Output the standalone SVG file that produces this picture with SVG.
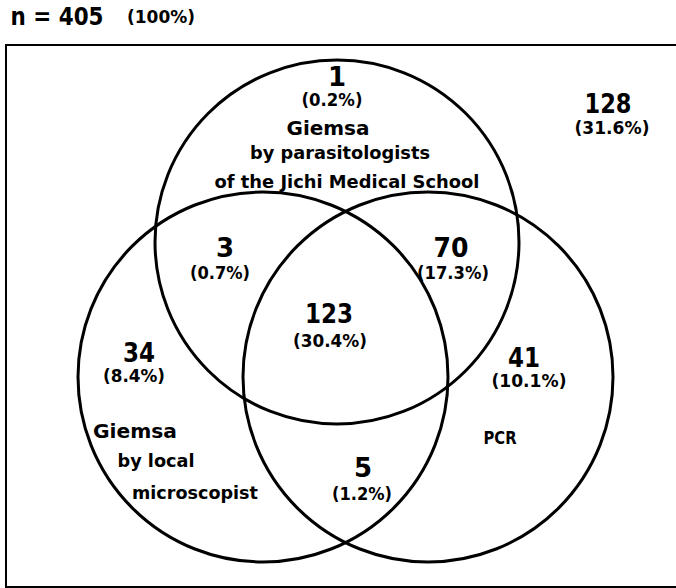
<svg xmlns="http://www.w3.org/2000/svg" width="676" height="588" viewBox="0 0 676 588">
<style>
text{font-family:"DejaVu Sans","Liberation Sans",sans-serif;font-weight:bold;fill:#000;text-anchor:middle}
.big{font-size:26px}
.pct{font-size:17px}
.lab{font-size:20px}
.sub{font-size:17px}
.c{fill:none;stroke:#000;stroke-width:3}
</style>
<rect x="0" y="0" width="676" height="588" fill="#fff"/>
<g id="title">
<text x="57" y="25" style="font-size:24px" textLength="93" lengthAdjust="spacingAndGlyphs">n = 405</text>
<text x="161" y="23" class="pct" textLength="68" lengthAdjust="spacingAndGlyphs">(100%)</text>
</g>
<g id="frame"><rect x="6" y="45" width="690" height="542" fill="none" stroke="#000" stroke-width="2"/></g>
<g id="connectors">
<circle id="circle-jichi" class="c" cx="337" cy="242" r="182"/>
<circle id="circle-local" class="c" cx="263" cy="377" r="185"/>
<circle id="circle-pcr" class="c" cx="428" cy="377" r="185"/>
</g>
<g id="outside">
<text x="608" y="113" class="big" textLength="47" lengthAdjust="spacingAndGlyphs">128</text>
<text x="612" y="134" class="pct" textLength="75" lengthAdjust="spacingAndGlyphs">(31.6%)</text>
</g>
<g id="jichi-only">
<text x="337" y="86" class="big">1</text>
<text x="332" y="106" class="pct" textLength="61" lengthAdjust="spacingAndGlyphs">(0.2%)</text>
<text x="328" y="135" class="lab" textLength="83" lengthAdjust="spacingAndGlyphs">Giemsa</text>
<text x="340" y="159" class="sub" textLength="180" lengthAdjust="spacingAndGlyphs">by parasitologists</text>
<text x="347" y="188" class="sub" textLength="265" lengthAdjust="spacingAndGlyphs">of the Jichi Medical School</text>
</g>
<g id="jichi-local">
<text x="225" y="257" class="big">3</text>
<text x="220" y="279" class="pct" textLength="60" lengthAdjust="spacingAndGlyphs">(0.7%)</text>
</g>
<g id="jichi-pcr">
<text x="451" y="257" class="big" textLength="35" lengthAdjust="spacingAndGlyphs">70</text>
<text x="453" y="279" class="pct" textLength="72" lengthAdjust="spacingAndGlyphs">(17.3%)</text>
</g>
<g id="all-three">
<text x="329" y="323" class="big" textLength="48" lengthAdjust="spacingAndGlyphs">123</text>
<text x="330" y="347" class="pct" textLength="74" lengthAdjust="spacingAndGlyphs">(30.4%)</text>
</g>
<g id="local-only">
<text x="139" y="362" class="big" textLength="32" lengthAdjust="spacingAndGlyphs">34</text>
<text x="134" y="382" class="pct" textLength="62" lengthAdjust="spacingAndGlyphs">(8.4%)</text>
<text x="135" y="438" class="lab" textLength="84" lengthAdjust="spacingAndGlyphs">Giemsa</text>
<text x="156" y="467" class="sub" textLength="77" lengthAdjust="spacingAndGlyphs">by local</text>
<text x="195" y="499" class="sub" textLength="126" lengthAdjust="spacingAndGlyphs">microscopist</text>
</g>
<g id="pcr-only">
<text x="524" y="367" class="big" textLength="32" lengthAdjust="spacingAndGlyphs">41</text>
<text x="529" y="387" class="pct" textLength="75" lengthAdjust="spacingAndGlyphs">(10.1%)</text>
<text x="500" y="444" style="font-size:18px" textLength="33" lengthAdjust="spacingAndGlyphs">PCR</text>
</g>
<g id="local-pcr">
<text x="363" y="477" class="big">5</text>
<text x="362" y="500" class="pct" textLength="60" lengthAdjust="spacingAndGlyphs">(1.2%)</text>
</g>
</svg>
